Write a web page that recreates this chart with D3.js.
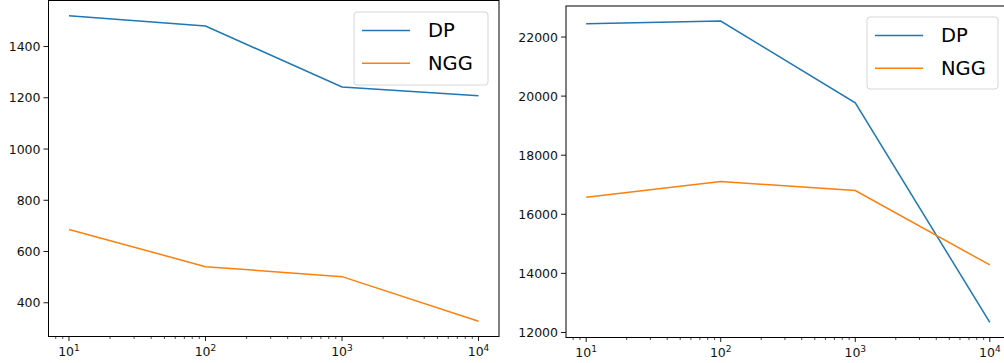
<!DOCTYPE html>
<html>
<head>
<meta charset="utf-8">
<script src="https://cdn.jsdelivr.net/npm/d3@7"></script>
<style>
  body { margin: 0; background: #fff; }
  svg { display: block; font-family: "DejaVu Sans", sans-serif; }
</style>
</head>
<body>
<svg id="chart" width="1004" height="363"></svg>
<script>
// data
const xs = [10, 100, 1000, 10000];
const seriesNames = ["DP", "NGG"];
const seriesColors = ["#1f77b4", "#ff7f0e"];

const leftDP = [1520, 1480, 1242, 1208];
const leftNGG = [686, 541, 502, 328];
const leftTicks = [400, 600, 800, 1000, 1200, 1400];

const rightDP = [22450, 22540, 19770, 12340];
const rightNGG = [16575, 17110, 16805, 14285];
const rightTicks = [12000, 14000, 16000, 18000, 20000, 22000];

const xTicks = [10, 100, 1000, 10000];

const svg = d3.select("#chart");

// matplotlib-like 5% margins
function padLinear(vals) {
    const [lo, hi] = d3.extent(vals);
    const m = (hi - lo) * 0.05;
    return [lo - m, hi + m];
}
function padLog(vals) {
    const [lo, hi] = d3.extent(vals).map(Math.log10);
    const m = (hi - lo) * 0.05;
    return [Math.pow(10, lo - m), Math.pow(10, hi + m)];
}

function drawPanel(box, dp, ngg, yTicks, legendBox) {
    const g = svg.append("g");

    const x = d3.scaleLog().domain(padLog(xs)).range([box.x0, box.x1]);
    const y = d3.scaleLinear().domain(padLinear(dp.concat(ngg))).range([box.y1, box.y0]);

    // minor x ticks
    const minor = [];
    const [d0, d1] = x.domain();
    for (let e = Math.floor(Math.log10(d0)); e <= Math.ceil(Math.log10(d1)); e++) {
        for (let k = 2; k <= 9; k++) {
            const v = k * Math.pow(10, e);
            if (v >= d0 && v <= d1) minor.push(v);
        }
    }
    g.selectAll("line.minor")
        .data(minor)
        .join("line")
        .attr("x1", d => x(d)).attr("x2", d => x(d))
        .attr("y1", box.y1).attr("y2", box.y1 + 2.5)
        .attr("stroke", "#000").attr("stroke-width", 0.7);

    // major x ticks
    g.selectAll("line.xmajor")
        .data(xTicks)
        .join("line")
        .attr("x1", d => x(d)).attr("x2", d => x(d))
        .attr("y1", box.y1).attr("y2", box.y1 + 4.5)
        .attr("stroke", "#000").attr("stroke-width", 0.9);

    const xl = g.selectAll("text.xlab")
        .data(xTicks)
        .join("text")
        .attr("x", d => x(d))
        .attr("y", box.y1 + 19.5)
        .attr("text-anchor", "middle")
        .attr("font-size", 12.5)
        .attr("fill", "#111");
    xl.append("tspan").text("10");
    xl.append("tspan")
        .attr("font-size", 9)
        .attr("dy", -5.5)
        .text(d => Math.round(Math.log10(d)));

    // y ticks
    g.selectAll("line.ytick")
        .data(yTicks)
        .join("line")
        .attr("x1", box.x0 - 5).attr("x2", box.x0)
        .attr("y1", d => y(d)).attr("y2", d => y(d))
        .attr("stroke", "#000").attr("stroke-width", 0.9);

    g.selectAll("text.ylab")
        .data(yTicks)
        .join("text")
        .attr("x", box.x0 - 8)
        .attr("y", d => y(d))
        .attr("dy", "0.36em")
        .attr("text-anchor", "end")
        .attr("font-size", 12.5)
        .attr("fill", "#111")
        .text(d => d);

    // lines
    const line = d3.line().x((d, i) => x(xs[i])).y(d => y(d));
    [dp, ngg].forEach((s, i) => {
        g.append("path")
            .datum(s)
            .attr("d", line)
            .attr("fill", "none")
            .attr("stroke", seriesColors[i])
            .attr("stroke-width", 1.5);
    });

    // frame
    g.append("rect")
        .attr("x", box.x0).attr("y", box.y0)
        .attr("width", box.x1 - box.x0).attr("height", box.y1 - box.y0)
        .attr("fill", "none")
        .attr("stroke", "#000")
        .attr("stroke-width", 1);

    // legend
    const lg = g.append("g");
    lg.append("rect")
        .attr("x", legendBox.x).attr("y", legendBox.y)
        .attr("width", legendBox.w).attr("height", legendBox.h)
        .attr("rx", 3)
        .attr("fill", "#fff").attr("fill-opacity", 0.8)
        .attr("stroke", "#d6d6d6");
    seriesNames.forEach((name, i) => {
        const cy = legendBox.y + 18.5 + i * 32.8;
        lg.append("line")
            .attr("x1", legendBox.x + 8).attr("x2", legendBox.x + 56)
            .attr("y1", cy).attr("y2", cy)
            .attr("stroke", seriesColors[i]).attr("stroke-width", 1.5);
        lg.append("text")
            .attr("x", legendBox.x + 74)
            .attr("y", cy + 6.8)
            .attr("font-size", 19.5)
            .attr("fill", "#000")
            .text(name);
    });
}

drawPanel({ x0: 48.5, x1: 499, y0: 0.5, y1: 336.5 }, leftDP, leftNGG, leftTicks,
    { x: 354, y: 12, w: 134, h: 73 });

drawPanel({ x0: 566, x1: 1010, y0: 6, y1: 337.5 }, rightDP, rightNGG, rightTicks,
    { x: 867, y: 17, w: 131, h: 72 });
</script>
</body>
</html>
